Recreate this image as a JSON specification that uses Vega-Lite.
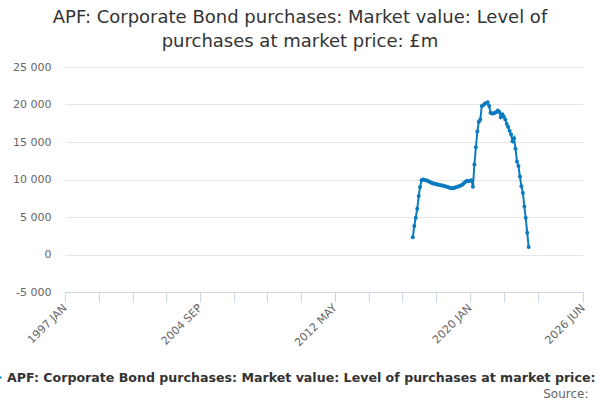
{
  "$schema": "https://vega.github.io/schema/vega-lite/v6.json",
  "width": 518,
  "height": 225,
  "autosize": {"type": "none"},
  "padding": {"left": 65, "top": 67, "right": 17, "bottom": 108},
  "background": "white",
  "title": {
    "text": ["APF: Corporate Bond purchases: Market value: Level of", "purchases at market price: £m"],
    "anchor": "middle",
    "dx": -24,
    "offset": 10,
    "font": "DejaVu Sans",
    "fontSize": 18,
    "fontWeight": "normal",
    "color": "#333333",
    "lineHeight": 24
  },
  "data": {
    "values": [
      {"date": "2016-10-01", "value": 2300, "series": "APF: Corporate Bond purchases: Market value: Level of purchases at market price: £m"},
      {"date": "2016-11-01", "value": 3800, "series": "APF: Corporate Bond purchases: Market value: Level of purchases at market price: £m"},
      {"date": "2016-12-01", "value": 4900, "series": "APF: Corporate Bond purchases: Market value: Level of purchases at market price: £m"},
      {"date": "2017-01-01", "value": 6100, "series": "APF: Corporate Bond purchases: Market value: Level of purchases at market price: £m"},
      {"date": "2017-02-01", "value": 7800, "series": "APF: Corporate Bond purchases: Market value: Level of purchases at market price: £m"},
      {"date": "2017-03-01", "value": 9000, "series": "APF: Corporate Bond purchases: Market value: Level of purchases at market price: £m"},
      {"date": "2017-04-01", "value": 9900, "series": "APF: Corporate Bond purchases: Market value: Level of purchases at market price: £m"},
      {"date": "2017-05-01", "value": 10000, "series": "APF: Corporate Bond purchases: Market value: Level of purchases at market price: £m"},
      {"date": "2017-06-01", "value": 9950, "series": "APF: Corporate Bond purchases: Market value: Level of purchases at market price: £m"},
      {"date": "2017-07-01", "value": 9910, "series": "APF: Corporate Bond purchases: Market value: Level of purchases at market price: £m"},
      {"date": "2017-08-01", "value": 9850, "series": "APF: Corporate Bond purchases: Market value: Level of purchases at market price: £m"},
      {"date": "2017-09-01", "value": 9750, "series": "APF: Corporate Bond purchases: Market value: Level of purchases at market price: £m"},
      {"date": "2017-10-01", "value": 9650, "series": "APF: Corporate Bond purchases: Market value: Level of purchases at market price: £m"},
      {"date": "2017-11-01", "value": 9550, "series": "APF: Corporate Bond purchases: Market value: Level of purchases at market price: £m"},
      {"date": "2017-12-01", "value": 9480, "series": "APF: Corporate Bond purchases: Market value: Level of purchases at market price: £m"},
      {"date": "2018-01-01", "value": 9420, "series": "APF: Corporate Bond purchases: Market value: Level of purchases at market price: £m"},
      {"date": "2018-02-01", "value": 9380, "series": "APF: Corporate Bond purchases: Market value: Level of purchases at market price: £m"},
      {"date": "2018-03-01", "value": 9330, "series": "APF: Corporate Bond purchases: Market value: Level of purchases at market price: £m"},
      {"date": "2018-04-01", "value": 9290, "series": "APF: Corporate Bond purchases: Market value: Level of purchases at market price: £m"},
      {"date": "2018-05-01", "value": 9240, "series": "APF: Corporate Bond purchases: Market value: Level of purchases at market price: £m"},
      {"date": "2018-06-01", "value": 9200, "series": "APF: Corporate Bond purchases: Market value: Level of purchases at market price: £m"},
      {"date": "2018-07-01", "value": 9160, "series": "APF: Corporate Bond purchases: Market value: Level of purchases at market price: £m"},
      {"date": "2018-08-01", "value": 9100, "series": "APF: Corporate Bond purchases: Market value: Level of purchases at market price: £m"},
      {"date": "2018-09-01", "value": 9050, "series": "APF: Corporate Bond purchases: Market value: Level of purchases at market price: £m"},
      {"date": "2018-10-01", "value": 9000, "series": "APF: Corporate Bond purchases: Market value: Level of purchases at market price: £m"},
      {"date": "2018-11-01", "value": 8900, "series": "APF: Corporate Bond purchases: Market value: Level of purchases at market price: £m"},
      {"date": "2018-12-01", "value": 8840, "series": "APF: Corporate Bond purchases: Market value: Level of purchases at market price: £m"},
      {"date": "2019-01-01", "value": 8840, "series": "APF: Corporate Bond purchases: Market value: Level of purchases at market price: £m"},
      {"date": "2019-02-01", "value": 8880, "series": "APF: Corporate Bond purchases: Market value: Level of purchases at market price: £m"},
      {"date": "2019-03-01", "value": 8920, "series": "APF: Corporate Bond purchases: Market value: Level of purchases at market price: £m"},
      {"date": "2019-04-01", "value": 9000, "series": "APF: Corporate Bond purchases: Market value: Level of purchases at market price: £m"},
      {"date": "2019-05-01", "value": 9080, "series": "APF: Corporate Bond purchases: Market value: Level of purchases at market price: £m"},
      {"date": "2019-06-01", "value": 9150, "series": "APF: Corporate Bond purchases: Market value: Level of purchases at market price: £m"},
      {"date": "2019-07-01", "value": 9250, "series": "APF: Corporate Bond purchases: Market value: Level of purchases at market price: £m"},
      {"date": "2019-08-01", "value": 9330, "series": "APF: Corporate Bond purchases: Market value: Level of purchases at market price: £m"},
      {"date": "2019-09-01", "value": 9550, "series": "APF: Corporate Bond purchases: Market value: Level of purchases at market price: £m"},
      {"date": "2019-10-01", "value": 9700, "series": "APF: Corporate Bond purchases: Market value: Level of purchases at market price: £m"},
      {"date": "2019-11-01", "value": 9820, "series": "APF: Corporate Bond purchases: Market value: Level of purchases at market price: £m"},
      {"date": "2019-12-01", "value": 9780, "series": "APF: Corporate Bond purchases: Market value: Level of purchases at market price: £m"},
      {"date": "2020-01-01", "value": 9850, "series": "APF: Corporate Bond purchases: Market value: Level of purchases at market price: £m"},
      {"date": "2020-02-01", "value": 9910, "series": "APF: Corporate Bond purchases: Market value: Level of purchases at market price: £m"},
      {"date": "2020-03-01", "value": 9050, "series": "APF: Corporate Bond purchases: Market value: Level of purchases at market price: £m"},
      {"date": "2020-04-01", "value": 12000, "series": "APF: Corporate Bond purchases: Market value: Level of purchases at market price: £m"},
      {"date": "2020-05-01", "value": 14300, "series": "APF: Corporate Bond purchases: Market value: Level of purchases at market price: £m"},
      {"date": "2020-06-01", "value": 16400, "series": "APF: Corporate Bond purchases: Market value: Level of purchases at market price: £m"},
      {"date": "2020-07-01", "value": 17700, "series": "APF: Corporate Bond purchases: Market value: Level of purchases at market price: £m"},
      {"date": "2020-08-01", "value": 18000, "series": "APF: Corporate Bond purchases: Market value: Level of purchases at market price: £m"},
      {"date": "2020-09-01", "value": 19800, "series": "APF: Corporate Bond purchases: Market value: Level of purchases at market price: £m"},
      {"date": "2020-10-01", "value": 19900, "series": "APF: Corporate Bond purchases: Market value: Level of purchases at market price: £m"},
      {"date": "2020-11-01", "value": 20100, "series": "APF: Corporate Bond purchases: Market value: Level of purchases at market price: £m"},
      {"date": "2020-12-01", "value": 20200, "series": "APF: Corporate Bond purchases: Market value: Level of purchases at market price: £m"},
      {"date": "2021-01-01", "value": 20300, "series": "APF: Corporate Bond purchases: Market value: Level of purchases at market price: £m"},
      {"date": "2021-02-01", "value": 19800, "series": "APF: Corporate Bond purchases: Market value: Level of purchases at market price: £m"},
      {"date": "2021-03-01", "value": 18900, "series": "APF: Corporate Bond purchases: Market value: Level of purchases at market price: £m"},
      {"date": "2021-04-01", "value": 18800, "series": "APF: Corporate Bond purchases: Market value: Level of purchases at market price: £m"},
      {"date": "2021-05-01", "value": 18800, "series": "APF: Corporate Bond purchases: Market value: Level of purchases at market price: £m"},
      {"date": "2021-06-01", "value": 18900, "series": "APF: Corporate Bond purchases: Market value: Level of purchases at market price: £m"},
      {"date": "2021-07-01", "value": 19000, "series": "APF: Corporate Bond purchases: Market value: Level of purchases at market price: £m"},
      {"date": "2021-08-01", "value": 19200, "series": "APF: Corporate Bond purchases: Market value: Level of purchases at market price: £m"},
      {"date": "2021-09-01", "value": 19000, "series": "APF: Corporate Bond purchases: Market value: Level of purchases at market price: £m"},
      {"date": "2021-10-01", "value": 18300, "series": "APF: Corporate Bond purchases: Market value: Level of purchases at market price: £m"},
      {"date": "2021-11-01", "value": 18700, "series": "APF: Corporate Bond purchases: Market value: Level of purchases at market price: £m"},
      {"date": "2021-12-01", "value": 18400, "series": "APF: Corporate Bond purchases: Market value: Level of purchases at market price: £m"},
      {"date": "2022-01-01", "value": 18000, "series": "APF: Corporate Bond purchases: Market value: Level of purchases at market price: £m"},
      {"date": "2022-02-01", "value": 17400, "series": "APF: Corporate Bond purchases: Market value: Level of purchases at market price: £m"},
      {"date": "2022-03-01", "value": 17000, "series": "APF: Corporate Bond purchases: Market value: Level of purchases at market price: £m"},
      {"date": "2022-04-01", "value": 16500, "series": "APF: Corporate Bond purchases: Market value: Level of purchases at market price: £m"},
      {"date": "2022-05-01", "value": 16000, "series": "APF: Corporate Bond purchases: Market value: Level of purchases at market price: £m"},
      {"date": "2022-06-01", "value": 15100, "series": "APF: Corporate Bond purchases: Market value: Level of purchases at market price: £m"},
      {"date": "2022-07-01", "value": 15500, "series": "APF: Corporate Bond purchases: Market value: Level of purchases at market price: £m"},
      {"date": "2022-08-01", "value": 14100, "series": "APF: Corporate Bond purchases: Market value: Level of purchases at market price: £m"},
      {"date": "2022-09-01", "value": 12400, "series": "APF: Corporate Bond purchases: Market value: Level of purchases at market price: £m"},
      {"date": "2022-10-01", "value": 11800, "series": "APF: Corporate Bond purchases: Market value: Level of purchases at market price: £m"},
      {"date": "2022-11-01", "value": 10400, "series": "APF: Corporate Bond purchases: Market value: Level of purchases at market price: £m"},
      {"date": "2022-12-01", "value": 9100, "series": "APF: Corporate Bond purchases: Market value: Level of purchases at market price: £m"},
      {"date": "2023-01-01", "value": 8200, "series": "APF: Corporate Bond purchases: Market value: Level of purchases at market price: £m"},
      {"date": "2023-02-01", "value": 6400, "series": "APF: Corporate Bond purchases: Market value: Level of purchases at market price: £m"},
      {"date": "2023-03-01", "value": 4900, "series": "APF: Corporate Bond purchases: Market value: Level of purchases at market price: £m"},
      {"date": "2023-04-01", "value": 2900, "series": "APF: Corporate Bond purchases: Market value: Level of purchases at market price: £m"},
      {"date": "2023-05-01", "value": 1000, "series": "APF: Corporate Bond purchases: Market value: Level of purchases at market price: £m"}
    ]
  },
  "mark": {
    "type": "line",
    "strokeWidth": 2,
    "point": {"filled": true, "size": 16}
  },
  "encoding": {
    "x": {
      "field": "date",
      "type": "temporal",
      "scale": {
        "type": "utc",
        "domain": [{"year": 1997, "month": 1, "date": 1, "utc": true}, {"year": 2026, "month": 6, "date": 1, "utc": true}]
      },
      "axis": {
        "title": "Source:",
        "titleAnchor": "end",
        "titleAlign": "right",
        "titleX": 523,
        "titleY": 96,
        "titleFont": "DejaVu Sans",
        "titleFontSize": 12,
        "titleFontWeight": "normal",
        "titleColor": "#666666",
        "values": [
          {"year": 1997, "month": 1, "date": 1, "utc": true},
          {"year": 1998, "month": 12, "date": 1, "utc": true},
          {"year": 2000, "month": 11, "date": 1, "utc": true},
          {"year": 2002, "month": 10, "date": 1, "utc": true},
          {"year": 2004, "month": 9, "date": 1, "utc": true},
          {"year": 2006, "month": 8, "date": 1, "utc": true},
          {"year": 2008, "month": 7, "date": 1, "utc": true},
          {"year": 2010, "month": 6, "date": 1, "utc": true},
          {"year": 2012, "month": 5, "date": 1, "utc": true},
          {"year": 2014, "month": 4, "date": 1, "utc": true},
          {"year": 2016, "month": 3, "date": 1, "utc": true},
          {"year": 2018, "month": 2, "date": 1, "utc": true},
          {"year": 2020, "month": 1, "date": 1, "utc": true},
          {"year": 2021, "month": 12, "date": 1, "utc": true},
          {"year": 2023, "month": 11, "date": 1, "utc": true},
          {"year": 2026, "month": 6, "date": 1, "utc": true}
        ],
        "labelExpr": "indexof(['1997 JAN','2004 SEP','2012 MAY','2020 JAN','2026 JUN'], upper(utcFormat(datum.value, '%Y %b'))) >= 0 ? upper(utcFormat(datum.value, '%Y %b')) : ''",
        "labelAngle": -45,
        "labelAlign": "right",
        "labelBaseline": "middle",
        "labelPadding": 4,
        "labelFont": "DejaVu Sans",
        "labelFontSize": 11,
        "labelColor": "#666666",
        "labelOverlap": false,
        "labelBound": false,
        "labelFlush": false,
        "grid": false,
        "domainColor": "#ccd6eb",
        "tickColor": "#ccd6eb",
        "tickSize": 10
      }
    },
    "y": {
      "field": "value",
      "type": "quantitative",
      "scale": {"domain": [-5000, 25000], "nice": false, "zero": false},
      "axis": {
        "title": null,
        "values": [-5000, 0, 5000, 10000, 15000, 20000, 25000],
        "labelExpr": "replace(replace(format(datum.value, ','), ',', ' '), '−', '-')",
        "labelFont": "DejaVu Sans",
        "labelFontSize": 11,
        "labelColor": "#666666",
        "labelPadding": 14,
        "domain": false,
        "ticks": false,
        "gridColor": "#e6e6e6"
      }
    },
    "color": {
      "field": "series",
      "type": "nominal",
      "scale": {"range": ["#0b7bc0"]},
      "legend": {
        "title": null,
        "orient": "none",
        "legendX": -79,
        "legendY": 302,
        "symbolType": "stroke",
        "symbolStrokeWidth": 2,
        "symbolSize": 200,
        "labelFont": "DejaVu Sans",
        "labelFontSize": 12.6,
        "labelFontWeight": "bold",
        "labelColor": "#333333",
        "labelLimit": 1000
      }
    }
  },
  "config": {
    "view": {"stroke": null}
  }
}
